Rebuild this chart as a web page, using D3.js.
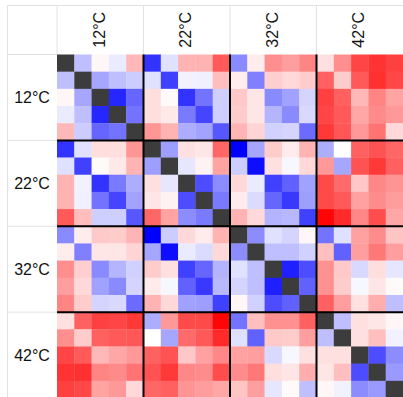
<!DOCTYPE html>
<html>
<head>
<meta charset="utf-8">
<script src="https://cdn.jsdelivr.net/npm/d3@7"></script>
<style>
  html, body { margin: 0; padding: 0; background: #fff; overflow: hidden; }
  svg { display: block; }
</style>
</head>
<body>
<svg id="chart" width="403" height="397"></svg>
<script>
// Temperature groups, five samples each
const groups = ["12°C", "22°C", "32°C", "42°C"];
const perGroup = 5;

// Pairwise correlation matrix (null on the diagonal)
const matrix = [
  [null, -0.25, 0.03, -0.08, 0.28, -0.8, -0.12, 0.3, 0.3, 0.65, -0.46, 0.07, 0.44, 0.38, 0.48, 0.12, 0.44, 0.73, 0.8, 0.75],
  [-0.25, null, -0.35, -0.25, -0.2, -0.12, -0.75, -0.05, -0.06, 0.26, 0.07, -0.5, 0.19, 0.15, 0.2, 0.62, 0.2, 0.65, 0.81, 0.72],
  [0.03, -0.35, null, -0.85, -0.6, 0.13, 0.02, -0.8, -0.55, -0.19, 0.21, 0.1, -0.46, -0.37, -0.17, 0.75, 0.62, 0.28, 0.48, 0.36],
  [-0.08, -0.25, -0.85, null, -0.55, 0.13, 0.09, -0.52, -0.73, -0.19, 0.2, 0.1, -0.29, -0.46, -0.15, 0.73, 0.65, 0.35, 0.46, 0.4],
  [0.28, -0.2, -0.6, -0.55, null, 0.41, 0.3, -0.32, -0.36, -0.66, 0.29, 0.17, -0.18, -0.17, -0.58, 0.78, 0.66, 0.4, 0.55, 0.15],
  [-0.8, -0.12, 0.13, 0.13, 0.41, null, -0.38, 0.12, 0.1, 0.6, -1.0, -0.35, 0.2, 0.08, 0.3, -0.32, 0.0, 0.62, 0.68, 0.6],
  [-0.12, -0.75, 0.02, 0.09, 0.3, -0.38, null, -0.1, 0.05, 0.36, -0.2, -0.95, 0.12, -0.03, 0.15, 0.4, -0.35, 0.68, 0.78, 0.62],
  [0.3, -0.05, -0.8, -0.52, -0.32, 0.12, -0.1, null, -0.7, -0.45, 0.15, -0.08, -0.75, -0.62, -0.37, 0.71, 0.58, 0.22, 0.47, 0.42],
  [0.3, -0.06, -0.55, -0.73, -0.36, 0.1, 0.05, -0.7, null, -0.52, 0.08, -0.14, -0.6, -0.78, -0.38, 0.71, 0.65, 0.37, 0.45, 0.39],
  [0.65, 0.26, -0.19, -0.19, -0.66, 0.6, 0.36, -0.45, -0.52, null, 0.3, 0.15, -0.3, -0.28, -0.75, 0.98, 0.83, 0.47, 0.7, 0.35],
  [-0.46, 0.07, 0.21, 0.2, 0.29, -1.0, -0.2, 0.15, 0.08, 0.3, null, -0.45, -0.12, -0.17, 0.03, -0.55, -0.12, 0.37, 0.45, 0.23],
  [0.07, -0.5, 0.1, 0.1, 0.17, -0.35, -0.95, -0.08, -0.14, 0.15, -0.45, null, -0.25, -0.25, -0.18, 0.25, -0.62, 0.38, 0.53, 0.38],
  [0.44, 0.19, -0.46, -0.29, -0.18, 0.2, 0.12, -0.75, -0.6, -0.3, -0.12, -0.25, null, -0.88, -0.7, 0.43, 0.21, -0.15, 0.13, -0.1],
  [0.38, 0.15, -0.37, -0.46, -0.17, 0.08, -0.03, -0.62, -0.78, -0.28, -0.17, -0.25, -0.88, null, -0.62, 0.43, 0.2, -0.03, 0.1, 0.02],
  [0.48, 0.2, -0.17, -0.15, -0.58, 0.3, 0.15, -0.37, -0.38, -0.75, 0.03, -0.18, -0.7, -0.62, null, 0.62, 0.38, 0.12, 0.32, -0.25],
  [0.12, 0.62, 0.75, 0.73, 0.78, -0.32, 0.4, 0.71, 0.71, 0.98, -0.55, 0.25, 0.43, 0.43, 0.62, null, -0.25, 0.12, 0.1, 0.03],
  [0.44, 0.2, 0.62, 0.65, 0.66, 0.0, -0.35, 0.58, 0.65, 0.83, -0.12, -0.62, 0.21, 0.2, 0.38, -0.25, null, 0.12, 0.25, -0.05],
  [0.73, 0.65, 0.28, 0.35, 0.4, 0.62, 0.68, 0.22, 0.37, 0.47, 0.37, 0.38, -0.15, -0.03, 0.12, 0.12, 0.12, null, -0.7, -0.45],
  [0.8, 0.81, 0.48, 0.46, 0.55, 0.68, 0.78, 0.47, 0.45, 0.7, 0.45, 0.53, 0.13, 0.1, 0.32, 0.1, 0.25, -0.7, null, -0.4],
  [0.75, 0.72, 0.36, 0.4, 0.15, 0.6, 0.62, 0.42, 0.39, 0.35, 0.23, 0.38, -0.1, 0.02, -0.25, 0.03, -0.05, -0.45, -0.4, null]
];

const svg = d3.select("#chart");
const frameLeft = 7, frameTop = 5;
const gridLeft = 57, gridRight = 403;
const gridTop = 54.5, gridBottom = 398;
const n = matrix.length;
const idx = d3.range(n);

const x = d3.scaleBand().domain(idx).range([gridLeft, gridRight]);
const y = d3.scaleBand().domain(idx).range([gridTop, gridBottom]);
const gx = d3.scaleBand().domain(groups).range([gridLeft, gridRight]);
const gy = d3.scaleBand().domain(groups).range([gridTop, gridBottom]);

const color = d3.scaleLinear()
  .domain([-1, 0, 1])
  .range(["#0000ff", "#ffffff", "#ff0000"])
  .clamp(true);

// light frame of the table
const frame = svg.append("g").attr("stroke", "#e2e2e2").attr("stroke-width", 1).attr("fill", "none");
frame.append("line").attr("x1", frameLeft).attr("x2", gridRight).attr("y1", frameTop + 0.5).attr("y2", frameTop + 0.5);
frame.append("line").attr("x1", frameLeft + 0.5).attr("x2", frameLeft + 0.5).attr("y1", frameTop).attr("y2", gridBottom);
groups.forEach(g => {
  frame.append("line")
    .attr("x1", gx(g)).attr("x2", gx(g))
    .attr("y1", frameTop).attr("y2", gridTop);
  frame.append("line")
    .attr("x1", frameLeft).attr("x2", gridLeft)
    .attr("y1", gy(g)).attr("y2", gy(g));
});

// heatmap cells
const cells = [];
matrix.forEach((row, i) => row.forEach((v, j) => cells.push({ i, j, v })));
svg.append("g")
  .selectAll("rect")
  .data(cells)
  .join("rect")
  .attr("x", d => x(d.j))
  .attr("y", d => y(d.i))
  .attr("width", x.bandwidth() + 0.3)
  .attr("height", y.bandwidth() + 0.3)
  .attr("fill", d => d.v === null ? "#3c3c3c" : color(d.v));

// thick separators between temperature blocks
const sep = svg.append("g").attr("stroke", "#000").attr("stroke-width", 2);
groups.slice(1).forEach(g => {
  sep.append("line").attr("x1", gx(g)).attr("x2", gx(g)).attr("y1", gridTop).attr("y2", gridBottom);
  sep.append("line").attr("x1", gridLeft).attr("x2", gridRight).attr("y1", gy(g)).attr("y2", gy(g));
});

// column headers (rotated) and row labels
const font = "'Liberation Sans', Arial, sans-serif";
svg.append("g")
  .selectAll("text")
  .data(groups)
  .join("text")
  .attr("transform", d => `translate(${gx(d) + gx.bandwidth() / 2 - 1},${(frameTop + gridTop) / 2}) rotate(-90)`)
  .attr("text-anchor", "middle")
  .attr("dominant-baseline", "central")
  .attr("font-family", font)
  .attr("font-size", 16)
  .attr("fill", "#111")
  .text(d => d);

svg.append("g")
  .selectAll("text")
  .data(groups)
  .join("text")
  .attr("x", (frameLeft + gridLeft) / 2)
  .attr("y", d => gy(d) + gy.bandwidth() / 2)
  .attr("text-anchor", "middle")
  .attr("dominant-baseline", "central")
  .attr("font-family", font)
  .attr("font-size", 16)
  .attr("fill", "#111")
  .text(d => d);
</script>
</body>
</html>
